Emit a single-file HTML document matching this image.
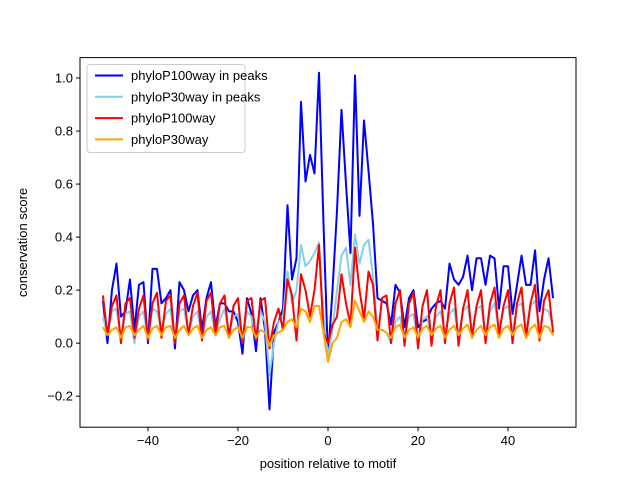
<!DOCTYPE html>
<html><head><meta charset="utf-8"><style>
body{margin:0;background:#fff;}
svg text{font-family:"Liberation Sans","DejaVu Sans",sans-serif;font-size:13px;fill:#000;}
</style></head><body>
<svg id="chart" width="640" height="480" xmlns="http://www.w3.org/2000/svg">
<rect width="640" height="480" fill="#fff"/>
<g id="plot"></g>
</svg>
<script>
const xStart = -50;
const xTicks = [-40, -20, 0, 20, 40];
const yTicks = [-0.2, 0.0, 0.2, 0.4, 0.6, 0.8, 1.0];
const seriesNames = ["phyloP100way in peaks", "phyloP30way in peaks", "phyloP100way", "phyloP30way"];
const bluePeaks = [0.16,0.0,0.2,0.3,0.1,0.12,0.24,0.05,0.22,0.23,0.0,0.28,0.28,0.15,0.17,0.2,-0.02,0.23,0.2,0.12,0.18,0.2,0.05,0.17,0.23,0.06,0.15,0.15,0.12,0.12,0.08,-0.04,0.17,0.11,-0.03,0.17,0.05,
 -0.25,0.04,0.08,0.13,0.52,0.24,0.32,0.91,0.61,0.71,0.64,1.02,0.45,-0.06,0.2,0.5,0.88,0.6,0.34,1.01,0.48,0.84,0.65,0.45,0.17,0.16,
 0.15,0.07,0.22,0.19,0.06,0.17,0.2,0.06,0.08,0.09,0.13,0.15,0.16,0.13,0.3,0.24,0.22,0.25,0.33,0.2,0.32,0.32,0.22,0.33,0.32,0.13,0.29,0.29,0.11,0.22,0.33,0.22,0.22,0.35,0.12,0.24,0.32,0.17];
const skyPeaks = [0.1,0.03,0.12,0.13,0.02,0.11,0.12,0.0,0.1,0.12,0.02,0.13,0.12,0.05,0.11,0.13,0.01,0.12,0.13,0.04,0.1,0.12,0.02,0.1,0.12,0.03,0.09,0.13,0.04,0.1,0.11,0.0,0.12,0.1,0.02,0.12,0.08,
 -0.12,0.0,0.08,0.1,0.27,0.15,0.2,0.37,0.29,0.31,0.34,0.38,0.1,-0.05,0.05,0.2,0.33,0.36,0.22,0.41,0.3,0.37,0.39,0.25,0.05,0.05,
 0.04,0.0,0.08,0.1,0.02,0.1,0.11,0.0,0.09,0.1,0.03,0.1,0.12,0.04,0.11,0.13,0.03,0.12,0.14,0.05,0.13,0.14,0.04,0.12,0.15,0.05,0.13,0.14,0.04,0.14,0.15,0.05,0.14,0.16,0.06,0.13,0.12,0.06];
const red100 = [0.18,0.03,0.14,0.18,0.0,0.15,0.17,0.02,0.13,0.18,0.01,0.15,0.19,0.02,0.16,0.18,0.0,0.15,0.18,0.03,0.14,0.19,0.01,0.16,0.19,0.03,0.15,0.18,0.02,0.14,0.17,0.0,0.16,0.17,0.01,0.16,0.17,
 -0.02,0.08,0.13,0.05,0.24,0.18,0.01,0.26,0.2,0.1,0.2,0.37,0.04,0.0,0.07,0.1,0.26,0.15,0.07,0.36,0.2,0.09,0.27,0.22,0.01,0.17,
 0.18,0.0,0.15,0.2,-0.01,0.15,0.19,-0.02,0.14,0.2,-0.01,0.14,0.2,0.0,0.15,0.21,-0.01,0.13,0.2,0.02,0.14,0.2,0.0,0.15,0.21,0.03,0.14,0.2,0.0,0.15,0.21,0.02,0.15,0.22,0.01,0.16,0.2,0.04];
const orange30 = [0.06,0.03,0.05,0.06,0.02,0.06,0.065,0.03,0.05,0.065,0.02,0.055,0.065,0.03,0.06,0.065,0.02,0.05,0.065,0.03,0.055,0.065,0.02,0.05,0.06,0.03,0.06,0.065,0.02,0.05,0.06,0.02,0.06,0.06,0.02,0.05,0.04,
 -0.01,0.03,0.04,0.05,0.08,0.09,0.06,0.13,0.12,0.08,0.14,0.14,0.04,-0.07,0.0,0.02,0.08,0.09,0.06,0.16,0.12,0.08,0.12,0.1,0.05,0.05,
 0.04,0.02,0.06,0.07,0.02,0.05,0.06,0.02,0.055,0.065,0.03,0.055,0.065,0.02,0.05,0.065,0.03,0.055,0.07,0.02,0.05,0.065,0.03,0.06,0.07,0.02,0.055,0.065,0.03,0.06,0.07,0.02,0.055,0.07,0.02,0.065,0.06,0.03];
const seriesData = [bluePeaks, skyPeaks, red100, orange30];
const seriesColors = ["#0000ff", "#87ceeb", "#ff0000", "#ffa500"];
const seriesKeys = ["series-phylop100-peaks", "series-phylop30-peaks", "series-phylop100", "series-phylop30"];

const L = 80, R = 576, T = 57.6, B = 427.2;
const xMin = -55.1, xMax = 55.1, yMin = -0.317, yMax = 1.077;
function sx(v){ return L + (v - xMin) / (xMax - xMin) * (R - L); }
function sy(v){ return B - (v - yMin) / (yMax - yMin) * (B - T); }

const NS = "http://www.w3.org/2000/svg";
const g = document.getElementById('plot');
function mk(tag, attrs, parent){ const e = document.createElementNS(NS, tag); for (const k in attrs) e.setAttribute(k, attrs[k]); (parent || g).appendChild(e); return e; }

seriesData.forEach((arr, si) => {
  const pts = arr.map((v, i) => sx(xStart + i).toFixed(2) + ',' + sy(v).toFixed(2)).join(' ');
  const pl = mk('polyline', {points: pts, fill: 'none', stroke: seriesColors[si], 'stroke-width': 2, 'stroke-linejoin': 'round'});
  
  
});

const frame = mk('rect', {x: L, y: T, width: R - L, height: B - T, fill: 'none', stroke: '#000', 'stroke-width': 1});



xTicks.forEach(t => {
  const x = sx(t);
  const tk = mk('line', {x1: x, x2: x, y1: B, y2: B + 4, stroke: '#000'});
  
  
  const tx = mk('text', {x: x, y: B + 18, 'text-anchor': 'middle'});
  tx.textContent = t < 0 ? '\u2212' + Math.abs(t) : String(t);
  
  
});
yTicks.forEach(t => {
  const y = sy(t);
  const tk = mk('line', {x1: L - 4, x2: L, y1: y, y2: y, stroke: '#000'});
  
  
  const tx = mk('text', {x: L - 7, y: y + 4.5, 'text-anchor': 'end'});
  tx.textContent = (t < 0 ? '\u2212' : '') + Math.abs(t).toFixed(1);
  
  
});

const xl = mk('text', {x: (L + R) / 2, y: 468, 'text-anchor': 'middle'});
xl.textContent = 'position relative to motif';


const yl = mk('text', {x: 0, y: 0, 'text-anchor': 'middle', transform: 'translate(27,' + ((T + B) / 2) + ') rotate(-90)'});
yl.textContent = 'conservation score';



const leg = mk('g', {});


mk('rect', {x: 87, y: 64.5, width: 158, height: 88, rx: 3, fill: '#fff', 'fill-opacity': 0.8, stroke: '#ccc'}, leg);
seriesNames.forEach((n, i) => {
  const y = 75.5 + i * 21.3;
  const ln = mk('line', {x1: 95, x2: 123, y1: y, y2: y, stroke: seriesColors[i], 'stroke-width': 2}, leg);
  
  
  const tx = mk('text', {x: 131, y: y + 4.5}, leg);
  tx.textContent = n;
  
  
});
</script>
</body></html>
